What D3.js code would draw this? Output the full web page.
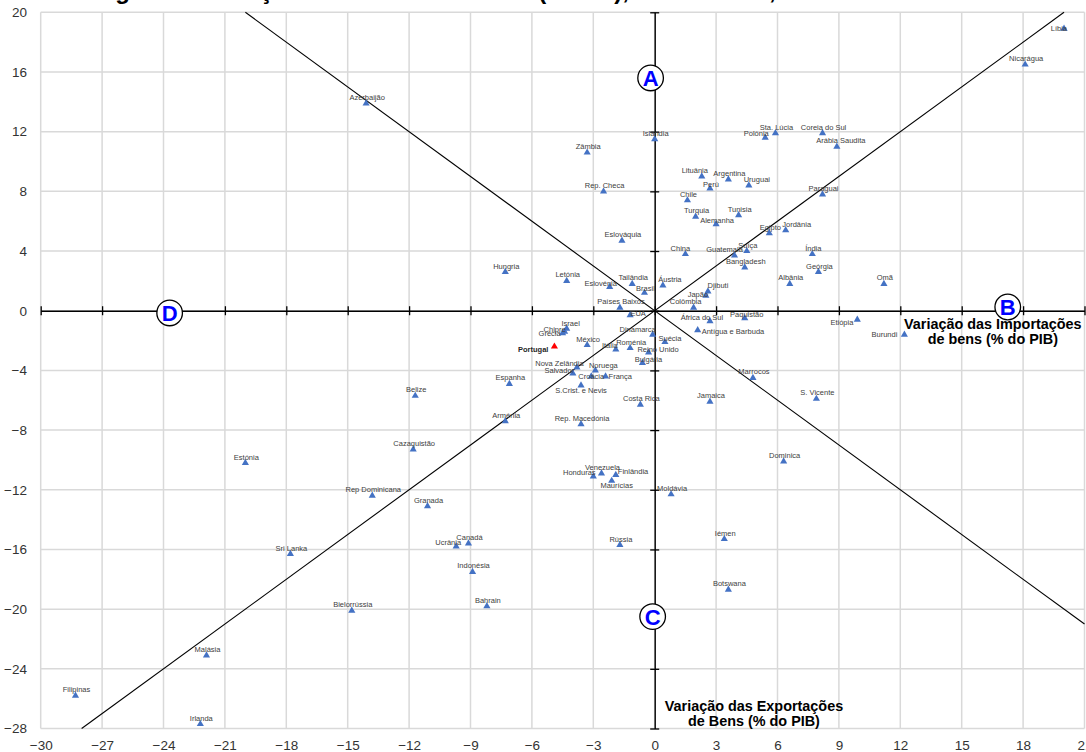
<!DOCTYPE html>
<html><head><meta charset="utf-8">
<script src="https://cdn.jsdelivr.net/npm/d3@7"></script>
<style>body{margin:0;background:#fff}svg{display:block}</style>
</head><body><svg id="c" width="1086" height="752"></svg>
<script>
// ---------- data ----------
const paises = ["Líbia","Nicarágua","Azerbaijão","Islândia","Zâmbia","Rep. Checa","Lituânia","Chile","Turquia","Eslováquia","China","Hungria","Polónia","Sta. Lúcia","Coreia do Sul","Arábia Saudita","Argentina","Perú","Uruguai","Paraguai","Tunisia","Alemanha","Egipto","Jordânia","Guatemala","Suíça","Índia","Bangladesh","Geórgia","Albânia","Omã","Áustria","Djibuti","Japão","Colômbia","Letónia","Eslovénia","Tailândia","Brasil","Países Baixos","EUA","África do Sul","Paquistão","Antígua e Barbuda","Israel","Chipre","Grécia","Portugal","México","Dinamarca","Suécia","Itália","Roménia","Reino Unido","Bulgária","Nova Zelândia","Salvador","Noruega","Croácia","França","Espanha","S.Crist. e Nevis","Costa Rica","Jamaica","Marrocos","S. Vicente","Rep. Macedónia","Arménia","Dominica","Venezuela","Honduras","Finlândia","Maurícias","Moldávia","Rússia","Iémen","Botswana","Estónia","Belize","Cazaquistão","Rep Dominicana","Granada","Sri Lanka","Ucrânia","Canadá","Indonésia","Bahrain","Bielorrússia","Malásia","Filipinas","Irlanda","Etiópia","Burundi"];
const importacoes = [20.0,18.1,-14.1,0.0,-3.3,-2.5,2.3,1.6,2.0,-1.6,1.5,-7.3,5.4,5.9,8.2,8.9,3.6,2.7,4.6,8.2,4.1,3.0,5.6,6.4,3.9,4.5,7.7,4.4,8.0,6.6,11.2,0.4,2.6,2.5,1.9,-4.3,-2.2,-1.1,-0.5,-1.7,-1.2,2.7,4.4,2.1,-4.3,-4.4,-4.5,-4.9,-3.3,-0.1,0.5,-1.9,-1.2,-0.3,-0.6,-3.8,-4.0,-2.9,-3.1,-2.4,-7.1,-3.6,-0.7,2.7,4.8,7.9,-3.6,-7.3,6.3,-2.6,-3.0,-1.9,-2.1,0.8,-1.7,3.4,3.6,-20.0,-11.7,-11.8,-13.8,-11.1,-17.8,-9.7,-9.1,-8.9,-8.2,-14.8,-21.9,-28.3,-22.2,9.9,12.2];
const exportacoes = [18.9,16.5,13.9,11.5,10.6,8.0,9.0,7.4,6.3,4.7,3.8,2.6,11.6,11.9,11.9,11.0,8.8,8.2,8.4,7.8,6.4,5.8,5.2,5.4,3.7,4.0,3.8,2.9,2.6,1.8,1.8,1.7,1.3,1.0,0.2,2.0,1.6,1.8,1.2,0.2,-0.3,-0.7,-0.5,-1.3,-1.2,-1.4,-1.5,-2.4,-2.3,-1.6,-2.1,-2.6,-2.5,-2.8,-3.5,-3.8,-4.2,-4.0,-4.4,-4.4,-4.9,-5.0,-6.3,-6.1,-4.5,-5.9,-7.6,-7.4,-10.1,-10.9,-11.1,-11.0,-11.4,-12.3,-15.7,-15.3,-18.7,-10.2,-5.7,-9.3,-12.4,-13.1,-16.3,-15.8,-15.6,-17.5,-19.8,-20.1,-23.1,-25.8,-27.7,-0.6,-1.6];
const destaque = "Portugal";
const xTicks = [-30,-27,-24,-21,-18,-15,-12,-9,-6,-3,0,3,6,9,12,15,18,21];
const yTicks = [-28,-24,-20,-16,-12,-8,-4,0,4,8,12,16,20];
const quadrantes = ["A","B","C","D"];
const quadX = [-0.2, 17.25, -0.1, -23.7];
const quadY = [15.6, 0.25, -20.5, -0.15];
const titulo = "Figura 6: Variação do Saldo Comercial (% PIB), 2007 a 2013, Mundo";
const tituloX = ["Variação das Importações","de bens (% do PIB)"];
const tituloY = ["Variação das Exportações","de Bens (% do PIB)"];

// ---------- label placement (layout only) ----------
const lab = {
 "Líbia":[3,0,"end"],"Lituânia":[-7,-6],"China":[-5,-6],"Polónia":[-9,-4],"Arábia Saudita":[4,-6],
 "Perú":[1,-4],"Uruguai":[8,-6],"Alemanha":[1,-4],"Jordânia":[11,-6],"Guatemala":[-10,-6],
 "Áustria":[7,-6],"Djibuti":[10,-6],"Japão":[-8,-1],"Colômbia":[-8,-6],"Eslovénia":[-9,-3],
 "Brasil":[1,-4],"EUA":[8,-2],"África do Sul":[-8,-4],"Paquistão":[2,-4],"Antígua e Barbuda":[4,1,"start"],
 "Israel":[4,-5],"Chipre":[-10,-2],"Grécia":[-13,0.5],"Portugal":[-6,2.5,"end"],"Dinamarca":[-15,-5],
 "Suécia":[5,-4],"Itália":[-6,-4],"Reino Unido":[9.5,-3],"Bulgária":[6,-4],"Nova Zelândia":[-17.5,-4],
 "Salvador":[-13.5,-3],"Noruega":[8,-5],"Croácia":[0,0],"França":[3,0,"start"],"S.Crist. e Nevis":[0,5],
 "Honduras":[-14,-4],"Finlândia":[2,-3,"start"],"Maurícias":[5,5],"Ucrânia":[-8,-4],
 "Etiópia":[-4,3,"end"],"Burundi":[-7,0,"end"]
};

const svg = d3.select("#c");
const x = d3.scaleLinear().domain([-30,21]).range([40.7,1084.5]);
const y = d3.scaleLinear().domain([-28,20]).range([728.5,12.3]);

const pts = paises.map((p,i)=>({p, xi:importacoes[i], ye:exportacoes[i]}));

// title (mostly outside the view, as in reference)
svg.append("text").attr("x",94).attr("y",-1)
  .attr("font-family","Liberation Sans, Arial, sans-serif").attr("font-weight","bold")
  .attr("font-size",24).attr("fill","#000").text(titulo);

// grid
const grid = svg.append("g");
grid.selectAll("line.v").data(xTicks).join("line").attr("class","v")
  .attr("x1",d=>x(d)).attr("x2",d=>x(d)).attr("y1",y(20)).attr("y2",y(-28))
  .attr("stroke","#d9d9d9").attr("stroke-width",1.5);
grid.selectAll("line.h").data(yTicks).join("line").attr("class","h")
  .attr("y1",d=>y(d)).attr("y2",d=>y(d)).attr("x1",x(-30)).attr("x2",x(21))
  .attr("stroke","#d9d9d9").attr("stroke-width",1.5);

// outer tick labels
const fontT = "Liberation Sans, Arial, sans-serif";
const bx = svg.append("g").attr("transform",`translate(0,${y(-28)})`)
  .call(d3.axisBottom(x).tickValues(xTicks).tickSize(0).tickFormat(d3.format("d")));
bx.select(".domain").remove();
bx.selectAll("text").attr("y",21.5).attr("dy",null).attr("font-size",13.5).attr("font-family",fontT).attr("fill","#333");
const ly = svg.append("g").attr("transform","translate(27,0)")
  .call(d3.axisLeft(y).tickValues(yTicks).tickSize(0).tickPadding(0).tickFormat(d3.format("d")));
ly.select(".domain").remove();
ly.selectAll("text").attr("font-size",13.5).attr("font-family",fontT).attr("fill","#333");

// diagonal reference lines
const line = d3.line().x(d=>x(d[0])).y(d=>y(d[1]));
svg.append("path").attr("d",line([[-28,-28],[20,20]])).attr("stroke","#000").attr("stroke-width",1.1).attr("fill","none");
svg.append("path").attr("d",line([[-20,20],[21,-21]])).attr("stroke","#000").attr("stroke-width",1.1).attr("fill","none");

// zero axes with cross ticks
const ax = svg.append("g").attr("transform",`translate(0,${y(0)})`)
  .call(d3.axisBottom(x).tickValues(xTicks).tickSizeOuter(0).tickFormat(""));
ax.selectAll(".tick line").attr("y1",-4.5).attr("y2",4.5).attr("stroke","#000").attr("stroke-width",1.3);
ax.select(".domain").attr("stroke","#000").attr("stroke-width",1.4);
const ay = svg.append("g").attr("transform",`translate(${x(0)},0)`)
  .call(d3.axisLeft(y).tickValues(yTicks).tickSizeOuter(0).tickFormat(""));
ay.selectAll(".tick line").attr("x1",-4.5).attr("x2",4.5).attr("stroke","#000").attr("stroke-width",1.3);
ay.select(".domain").attr("stroke","#000").attr("stroke-width",1.4);

// points
const tri = d3.symbol(d3.symbolTriangle).size(22);
svg.append("g").selectAll("path").data(pts).join("path")
  .attr("d",tri).attr("transform",d=>`translate(${x(d.xi)},${y(d.ye)})`)
  .attr("fill",d=>d.p===destaque?"#ff0000":"#4472c4");

// labels
svg.append("g").selectAll("text").data(pts).join("text")
  .attr("x",d=>x(d.xi)+(lab[d.p]?lab[d.p][0]:1))
  .attr("y",d=>y(d.ye)+(lab[d.p]?lab[d.p][1]:-6)+2.6)
  .attr("text-anchor",d=>(lab[d.p]&&lab[d.p][2])||"middle")
  .attr("font-family",fontT).attr("font-size",7.5)
  .attr("font-weight",d=>d.p===destaque?"bold":"normal")
  .attr("fill",d=>d.p===destaque?"#262626":"#404040")
  .text(d=>d.p);

// quadrant markers
const q = svg.append("g").selectAll("g").data(quadrantes).join("g")
  .attr("transform",(d,i)=>`translate(${x(quadX[i])},${y(quadY[i])})`);
q.append("circle").attr("r",12.8).attr("fill","#fff").attr("stroke","#000").attr("stroke-width",1.3);
q.append("text").attr("text-anchor","middle").attr("y",8).attr("font-family",fontT)
  .attr("font-weight","bold").attr("font-size",22).attr("fill","#0000ff").text(d=>d);

// axis titles
const tX = svg.append("text").attr("text-anchor","middle").attr("font-family",fontT)
  .attr("font-weight","bold").attr("font-size",14.4).attr("fill","#000");
tX.selectAll("tspan").data(tituloX).join("tspan").attr("x",x(16.52)).attr("y",(d,i)=>y(0)+18.3+i*14.5).text(d=>d);
const tY = svg.append("text").attr("text-anchor","middle").attr("font-family",fontT)
  .attr("font-weight","bold").attr("font-size",14.4).attr("fill","#000");
tY.selectAll("tspan").data(tituloY).join("tspan").attr("x",x(4.85)).attr("y",(d,i)=>y(-28)-17.8+i*15).text(d=>d);
</script></body></html>
